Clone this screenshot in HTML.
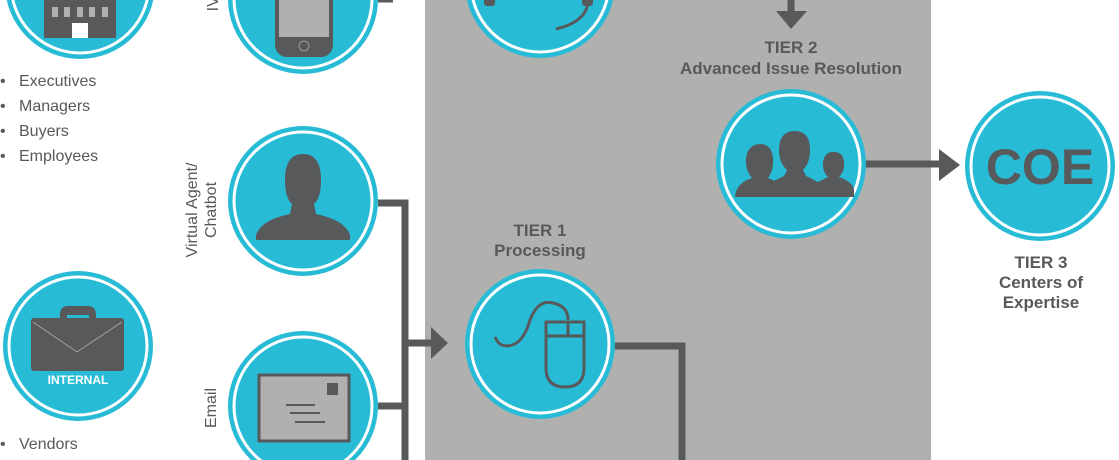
<!DOCTYPE html>
<html><head><meta charset="utf-8"><style>
html,body{margin:0;padding:0;background:#fff;width:1119px;height:460px;overflow:hidden}
svg{display:block}
text{font-family:"Liberation Sans",sans-serif}
</style></head><body>
<svg width="1119" height="460" viewBox="0 0 1119 460" xmlns="http://www.w3.org/2000/svg">
<defs>
<g id="c"><circle r="75" fill="#27bbd6"/><circle r="69" fill="none" stroke="#fff" stroke-width="3"/></g>
</defs>
<rect x="425" y="0" width="506" height="460" fill="#b0b1af"/>
<g stroke="#58595b" stroke-width="7" fill="none">
<path d="M378 -1 H393"/>
<path d="M378 203 H405 V460"/>
<path d="M378 406 H405"/>
<path d="M405 343 H432"/>
<path d="M614 346 H682 V460"/>
<path d="M791 0 V12"/>
<path d="M865 164 H940"/>
</g>
<g fill="#58595b">
<polygon points="431,327 448,343 431,359"/>
<polygon points="776,11 807,11 791,29"/>
<polygon points="939,149 960,165 939,181"/>
</g>
<use href="#c" x="80" y="-16"/>
<use href="#c" x="303" y="-1"/>
<use href="#c" x="303" y="201"/>
<use href="#c" x="303" y="406"/>
<use href="#c" x="78" y="346"/>
<use href="#c" x="540" y="-17"/>
<use href="#c" x="540" y="344"/>
<use href="#c" x="791" y="164"/>
<use href="#c" x="1040" y="166"/>
<rect x="44" y="-10" width="72" height="48" fill="#58595b"/>
<g fill="#b0b1af"><rect x="52" y="7" width="6" height="10"/><rect x="64" y="7" width="6" height="10"/><rect x="77" y="7" width="6" height="10"/><rect x="89" y="7" width="6" height="10"/><rect x="102" y="7" width="6" height="10"/></g>
<rect x="72" y="23" width="16" height="15" fill="#fff"/>
<rect x="275" y="-30" width="58" height="87" rx="12" fill="#58595b"/>
<rect x="279" y="-25" width="50" height="62" fill="#b0b1af"/>
<circle cx="304" cy="46" r="5" fill="none" stroke="#999" stroke-width="1"/>
<path d="M588 2 Q586 22 556 29" stroke="#58595b" stroke-width="3" fill="none"/>
<rect x="484" y="-5" width="11" height="11" rx="3" fill="#58595b"/>
<rect x="582" y="-5" width="11" height="11" rx="3" fill="#58595b"/>
<path d="M285 180 Q285 154 303 154 Q321 154 321 180 Q321 198 314 204 L316 214 Q345 220 350 235 L350 240 L256 240 L256 235 Q261 220 290 214 L292 204 Q285 198 285 180Z" fill="#58595b"/>
<rect x="259" y="375" width="90" height="66" fill="#b0b1af" stroke="#58595b" stroke-width="3"/>
<rect x="327" y="383" width="11" height="12" fill="#58595b"/>
<g stroke="#58595b" stroke-width="2"><path d="M286 405 H315 M290 413 H320 M295 422 H325"/></g>
<path d="M60 322 V315 Q60 306 68 306 H88 Q96 306 96 315 V322 H89 V315 H67 V322Z" fill="#58595b"/>
<rect x="31" y="318" width="93" height="53" rx="3" fill="#58595b"/>
<path d="M33 322 L77 352 L122 322" stroke="#aaa" stroke-width="0.8" fill="none"/>
<text x="78" y="384" text-anchor="middle" font-size="12" font-weight="bold" fill="#fff">INTERNAL</text>
<path d="M495 337 Q500 350 515 344 Q525 338 530 320 Q538 299 553 303 Q568 306 568 320" stroke="#58595b" stroke-width="3" fill="none"/>
<path d="M546 322 H584 V368 Q584 387 565 387 Q546 387 546 368Z" fill="none" stroke="#58595b" stroke-width="3"/>
<path d="M546 336 H584 M568 322 V336" stroke="#58595b" stroke-width="3"/>
<g fill="#58595b">
<path d="M735 197 Q736 183 752 178 Q745 170 746 158 Q748 144 761 144 Q772 145 773 158 Q774 170 768 178 L780 183 L792 180 L818 182 L828 177 Q822 171 823 162 Q825 151 835 152 Q844 153 844 163 Q845 171 839 177 Q853 182 854 190 V197Z"/>
<path d="M779 150 Q779 131 795 131 Q810 131 810 150 Q810 163 803 170 L806 176 Q820 182 826 190 L826 197 L763 197 L764 190 Q770 182 784 176 L787 170 Q779 163 779 150Z"/>
</g>
<text x="1040" y="184" text-anchor="middle" font-size="50" font-weight="bold" fill="#58595b">COE</text>
<g fill="#58595b" font-weight="bold" text-anchor="middle" font-size="17">
<text x="791" y="53">TIER 2</text>
<text x="791" y="74">Advanced Issue Resolution</text>
<text x="540" y="236">TIER 1</text>
<text x="540" y="256">Processing</text>
<text x="1041" y="268">TIER 3</text>
<text x="1041" y="288">Centers of</text>
<text x="1041" y="308">Expertise</text>
</g>
<g fill="#58595b" font-size="16">
<text x="0" y="86">•</text><text x="19" y="86">Executives</text>
<text x="0" y="111">•</text><text x="19" y="111">Managers</text>
<text x="0" y="136">•</text><text x="19" y="136">Buyers</text>
<text x="0" y="161">•</text><text x="19" y="161">Employees</text>
<text x="0" y="449">•</text><text x="19" y="449">Vendors</text>
</g>
<g fill="#58595b" font-size="16" text-anchor="middle">
<text transform="translate(218,-2) rotate(-90)">IVR</text>
<text transform="translate(197,210) rotate(-90)">Virtual Agent/</text>
<text transform="translate(216,210) rotate(-90)">Chatbot</text>
<text transform="translate(216,408) rotate(-90)">Email</text>
</g>
</svg>
</body></html>
